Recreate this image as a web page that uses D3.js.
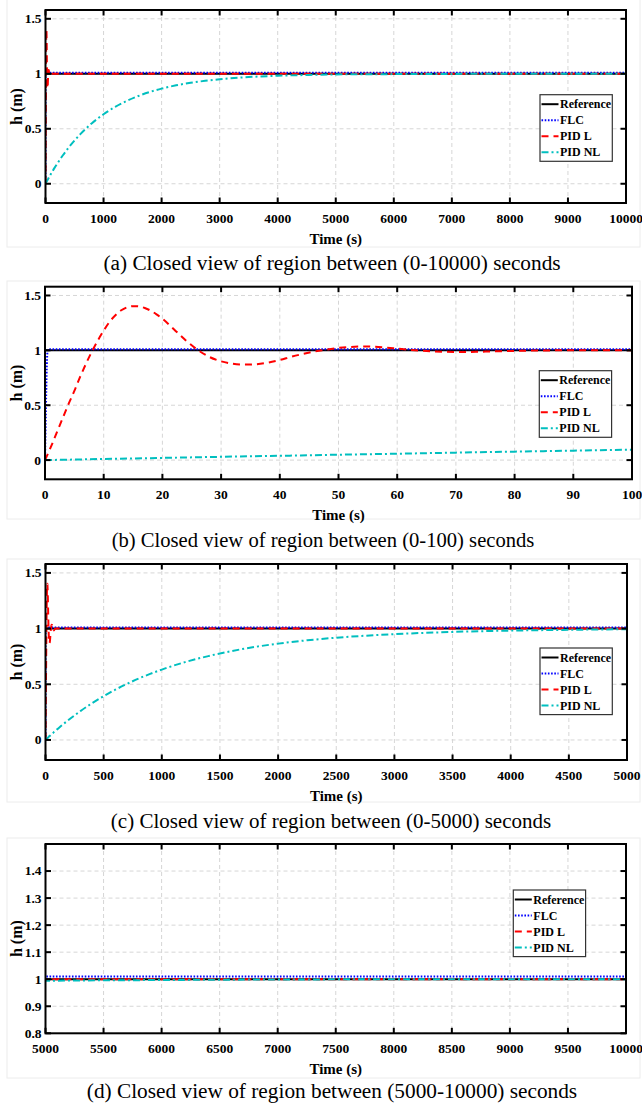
<!DOCTYPE html>
<html>
<head>
<meta charset="utf-8">
<script src="https://cdn.jsdelivr.net/npm/d3@7/dist/d3.min.js"></script>
<style>
  html, body { margin: 0; padding: 0; background: #fff; }
  svg { display: block; }
  text { font-family: "Liberation Serif", "Times New Roman", serif; }
</style>
</head>
<body>
<script>
// ---------------- DATA ----------------
const seriesNames = ["Reference", "FLC", "PID L", "PID NL"];

const refT = [0, 10000];
const refH = [1, 1];

const flcT = [0, 0.15, 0.3, 0.45, 0.6, 10000];
const flcH = [0, 0.45, 0.85, 1.0, 1.01, 1.01];

const pidLT = [0, 1, 2, 3, 4, 5, 6, 7, 8, 9, 10, 11, 12, 13, 14, 15, 16, 17, 18, 19, 20, 22, 24, 26, 28, 30, 32, 34, 36, 38, 40, 42, 44, 46, 48, 50, 52, 54, 56, 58, 60, 62, 64, 66, 68, 70, 72, 74, 76, 80, 85, 90, 100, 150, 10000];
const pidLH = [0, 0.12, 0.25, 0.38, 0.51, 0.63, 0.76, 0.88, 0.99, 1.09, 1.18, 1.26, 1.32, 1.365, 1.392, 1.403, 1.4, 1.386, 1.362, 1.328, 1.288, 1.19, 1.09, 1.005, 0.94, 0.9, 0.878, 0.87, 0.874, 0.888, 0.912, 0.942, 0.968, 0.99, 1.008, 1.022, 1.031, 1.035, 1.033, 1.026, 1.016, 1.006, 0.997, 0.991, 0.987, 0.985, 0.985, 0.987, 0.99, 0.995, 0.999, 1.001, 1.0, 1.0, 1.0];

const pidNLT = [0, 10, 20, 30, 40, 50, 60, 70, 80, 90, 100, 150, 200, 300, 400, 500, 600, 700, 800, 900, 1000, 1200, 1400, 1600, 1800, 2000, 2250, 2500, 2750, 3000, 3500, 4000, 4500, 5000, 6000, 7000, 8000, 9000, 10000];
const pidNLH = [0, 0.01, 0.02, 0.03, 0.039, 0.049, 0.058, 0.068, 0.077, 0.086, 0.095, 0.14, 0.181, 0.259, 0.33, 0.393, 0.451, 0.503, 0.551, 0.593, 0.632, 0.699, 0.753, 0.798, 0.835, 0.865, 0.895, 0.918, 0.936, 0.95, 0.97, 0.982, 0.989, 0.994, 0.997, 0.999, 0.9997, 1.0, 1.0];

const xTicksA = [0, 1000, 2000, 3000, 4000, 5000, 6000, 7000, 8000, 9000, 10000];
const xTicksB = [0, 10, 20, 30, 40, 50, 60, 70, 80, 90, 100];
const xTicksC = [0, 500, 1000, 1500, 2000, 2500, 3000, 3500, 4000, 4500, 5000];
const xTicksD = [5000, 5500, 6000, 6500, 7000, 7500, 8000, 8500, 9000, 9500, 10000];
const yTicksABC = [0, 0.5, 1, 1.5];
const yTicksD = [0.8, 0.9, 1, 1.1, 1.2, 1.3, 1.4];

const captions = [
  "(a) Closed view of region between (0-10000) seconds",
  "(b) Closed view of region between (0-100) seconds",
  "(c) Closed view of region between (0-5000) seconds",
  "(d) Closed view of region between (5000-10000) seconds"
];
const xLabel = "Time (s)";
const yLabel = "h (m)";

// ---------------- LAYOUT / STYLE ----------------
const W = 642, H = 1108;
const styles = [
  { color: "#000000", dash: null, width: 2 },
  { color: "#0000ff", dash: "1.6,1.6", width: 2 },
  { color: "#ff0000", dash: "7,5", width: 2 },
  { color: "#00bfbf", dash: "7,3,2,3", width: 2 }
];
const seriesT = [refT, flcT, pidLT, pidNLT];
const seriesH = [refH, flcH, pidLH, pidNLH];

const panels = [
  { x0: 45.5, x1: 626, y0: 10, y1: 203, xd: [0, 10000], xt: xTicksA, yd: [-0.175, 1.58], yt: yTicksABC,
    lg: [540, 94.7], capX: 332, capY: 270, capSize: 21.3, frame: [7, -2, 640, 247] },
  { x0: 45, x1: 632, y0: 286.7, y1: 479.3, xd: [0, 100], xt: xTicksB, yd: [-0.175, 1.58], yt: yTicksABC,
    lg: [539.3, 370.7], capX: 323, capY: 547, capSize: 20.6, frame: [7, 281, 640, 519] },
  { x0: 45.5, x1: 627, y0: 564, y1: 760, xd: [0, 5000], xt: xTicksC, yd: [-0.18, 1.58], yt: yTicksABC,
    lg: [540, 648], capX: 331, capY: 828, capSize: 21, frame: [7, 559, 640, 802] },
  { x0: 45.5, x1: 626, y0: 844, y1: 1033.3, xd: [5000, 10000], xt: xTicksD, yd: [0.8, 1.5], yt: yTicksD,
    lg: [513.3, 890], capX: 332, capY: 1098, capSize: 21.3, frame: [7, 838, 640, 1078] }
];

const svg = d3.select("body").append("svg").attr("width", W).attr("height", H);

panels.forEach((p, i) => {
  const g = svg.append("g");
  // faint frame of the sub-figure
  g.append("rect")
    .attr("x", p.frame[0]).attr("y", p.frame[1])
    .attr("width", p.frame[2] - p.frame[0]).attr("height", p.frame[3] - p.frame[1])
    .attr("fill", "none").attr("stroke", "#ececec").attr("stroke-width", 1);

  const x = d3.scaleLinear().domain(p.xd).range([p.x0, p.x1]);
  const y = d3.scaleLinear().domain(p.yd).range([p.y1, p.y0]);

  // grid
  g.append("g").selectAll("line").data(p.xt).join("line")
    .attr("x1", d => x(d)).attr("x2", d => x(d)).attr("y1", p.y0).attr("y2", p.y1)
    .attr("stroke", "#d6d6d6").attr("stroke-width", 1).attr("stroke-dasharray", "4,3");
  g.append("g").selectAll("line").data(p.yt).join("line")
    .attr("x1", p.x0).attr("x2", p.x1).attr("y1", d => y(d)).attr("y2", d => y(d))
    .attr("stroke", "#d6d6d6").attr("stroke-width", 1).attr("stroke-dasharray", "4,3");

  // clip
  const cid = "clip" + i;
  svg.append("clipPath").attr("id", cid).append("rect")
    .attr("x", p.x0).attr("y", p.y0).attr("width", p.x1 - p.x0).attr("height", p.y1 - p.y0);

  const lines = g.append("g").attr("clip-path", `url(#${cid})`);
  const line = d3.line().x(d => x(d[0])).y(d => y(d[1])).curve(d3.curveMonotoneX);
  seriesT.forEach((ts, k) => {
    const pts = ts.map((t, j) => [t, seriesH[k][j]]);
    lines.append("path").datum(pts)
      .attr("d", line)
      .attr("fill", "none")
      .attr("stroke", styles[k].color)
      .attr("stroke-width", styles[k].width)
      .attr("stroke-dasharray", styles[k].dash);
  });

  // axes box
  g.append("rect").attr("x", p.x0).attr("y", p.y0)
    .attr("width", p.x1 - p.x0).attr("height", p.y1 - p.y0)
    .attr("fill", "none").attr("stroke", "#000").attr("stroke-width", 2);

  // inward ticks (all four sides)
  const tl = 5.5;
  const tk = g.append("g").attr("stroke", "#000").attr("stroke-width", 2);
  p.xt.forEach(v => {
    tk.append("line").attr("x1", x(v)).attr("x2", x(v)).attr("y1", p.y1).attr("y2", p.y1 - tl);
    tk.append("line").attr("x1", x(v)).attr("x2", x(v)).attr("y1", p.y0).attr("y2", p.y0 + tl);
  });
  p.yt.forEach(v => {
    tk.append("line").attr("x1", p.x0).attr("x2", p.x0 + tl).attr("y1", y(v)).attr("y2", y(v));
    tk.append("line").attr("x1", p.x1).attr("x2", p.x1 - tl).attr("y1", y(v)).attr("y2", y(v));
  });

  // tick labels
  g.append("g").selectAll("text").data(p.xt).join("text")
    .attr("x", d => x(d)).attr("y", p.y1 + 19.5)
    .attr("text-anchor", "middle").attr("font-size", 13.5).attr("font-weight", "bold")
    .text(d => String(d));
  g.append("g").selectAll("text").data(p.yt).join("text")
    .attr("x", p.x0 - 4).attr("y", d => y(d)).attr("dy", "0.33em")
    .attr("text-anchor", "end").attr("font-size", 13.5).attr("font-weight", "bold")
    .text(d => String(d));

  // axis labels
  g.append("text").attr("x", (p.x0 + p.x1) / 2).attr("y", p.y1 + 41)
    .attr("text-anchor", "middle").attr("font-size", 15).attr("font-weight", "bold")
    .text(xLabel);
  g.append("text")
    .attr("transform", `translate(22,${(p.y0 + p.y1) / 2}) rotate(-90)`)
    .attr("text-anchor", "middle").attr("font-size", 16).attr("font-weight", "bold")
    .text(yLabel);

  // legend
  const lg = g.append("g").attr("transform", `translate(${p.lg[0]},${p.lg[1]})`);
  lg.append("rect").attr("width", 72.3).attr("height", 66.6)
    .attr("fill", "#fff").attr("stroke", "#333").attr("stroke-width", 1.2);
  seriesNames.forEach((nm, k) => {
    const ry = 9.5 + k * 16;
    lg.append("line").attr("x1", 1.5).attr("x2", 18.5).attr("y1", ry).attr("y2", ry)
      .attr("stroke", styles[k].color).attr("stroke-width", styles[k].width)
      .attr("stroke-dasharray", styles[k].dash);
    lg.append("text").attr("x", 20).attr("y", ry + 4.2)
      .attr("font-size", 12).attr("font-weight", "bold").text(nm);
  });

  // caption
  g.append("text").attr("x", p.capX).attr("y", p.capY)
    .attr("text-anchor", "middle").attr("font-size", p.capSize)
    .text(captions[i]);
});
</script>
</body>
</html>
